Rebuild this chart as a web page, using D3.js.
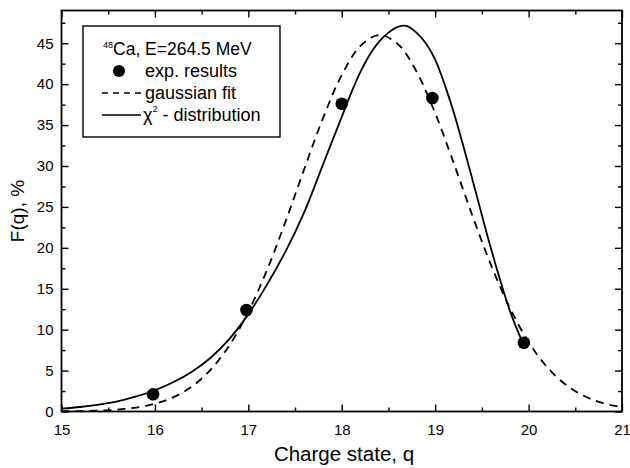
<!DOCTYPE html>
<html>
<head>
<meta charset="utf-8">
<script src="https://cdn.jsdelivr.net/npm/d3@7"></script>
<style>
  html, body { margin: 0; padding: 0; background: #fff; }
  svg { display: block; font-family: "Liberation Sans", Arial, sans-serif; }
</style>
</head>
<body>
<svg id="chart" width="630" height="468"></svg>
<script>
// ---- data ----
const expQ = [15.98, 16.98, 18.0, 18.97, 19.95];
const expF = [2.1, 12.4, 37.6, 38.3, 8.4];

const gaussQ = [15.0, 15.2, 15.4, 15.6, 15.8, 16.0, 16.2, 16.4, 16.6, 16.8, 17.0, 17.2, 17.4, 17.6, 17.8, 18.0, 18.2, 18.4, 18.6, 18.8, 19.0, 19.2, 19.4, 19.6, 19.8, 20.0, 20.2, 20.4, 20.6, 20.8, 21.0];
const gaussF = [0.02, 0.05, 0.11, 0.23, 0.48, 0.95, 1.76, 3.09, 5.15, 8.13, 12.18, 17.29, 23.26, 29.67, 35.87, 41.11, 44.67, 46.0, 44.91, 41.55, 36.45, 30.31, 23.89, 17.85, 12.65, 8.49, 5.40, 3.26, 1.86, 1.01, 0.52];

const chiQ = [15.0, 15.2, 15.4, 15.6, 15.8, 16.0, 16.2, 16.4, 16.6, 16.8, 17.0, 17.2, 17.4, 17.6, 17.8, 18.0, 18.1, 18.2, 18.3, 18.4, 18.5, 18.6, 18.7, 18.8, 18.9, 19.0, 19.1, 19.2, 19.3, 19.4, 19.5, 19.6, 19.7, 19.8, 19.9, 19.95];
const chiF = [0.35, 0.55, 0.85, 1.25, 1.85, 2.6, 3.6, 4.9, 6.6, 8.9, 11.9, 15.5, 19.6, 24.4, 30.2, 36.0, 38.9, 41.5, 43.6, 45.2, 46.3, 47.0, 47.1, 46.3, 45.0, 43.0, 40.0, 36.5, 32.5, 28.3, 24.0, 19.8, 15.9, 12.3, 9.4, 8.2];

const xTicks = [15, 16, 17, 18, 19, 20, 21];
const yTicks = [0, 5, 10, 15, 20, 25, 30, 35, 40, 45];
const xMinor = [15.5, 16.5, 17.5, 18.5, 19.5, 20.5];
const yMinor = [2.5, 7.5, 12.5, 17.5, 22.5, 27.5, 32.5, 37.5, 42.5, 47.5];

const legendLabels = ["exp. results", "gaussian fit", " - distribution"];

// ---- layout ----
const L = 61.5, R = 622, T = 10.5, B = 411.5;
const svg = d3.select("#chart");
const x = d3.scaleLinear().domain([15, 21]).range([L, R]);
const y = d3.scaleLinear().domain([0, 49]).range([B, T]);

const lineGen = d3.line().x(d => x(d[0])).y(d => y(d[1])).curve(d3.curveCatmullRom);

// curves
svg.append("path")
  .datum(d3.zip(gaussQ, gaussF))
  .attr("d", lineGen)
  .attr("fill", "none").attr("stroke", "#000").attr("stroke-width", 1.8)
  .attr("stroke-dasharray", "8,6");

svg.append("path")
  .datum(d3.zip(chiQ, chiF))
  .attr("d", lineGen)
  .attr("fill", "none").attr("stroke", "#000").attr("stroke-width", 1.8);

// points
svg.append("g").selectAll("circle")
  .data(d3.zip(expQ, expF))
  .join("circle")
  .attr("cx", d => x(d[0])).attr("cy", d => y(d[1])).attr("r", 6.3)
  .attr("fill", "#000");

// axes with inward ticks on all four sides
function axisG(axis, tx, ty) {
  const g = svg.append("g").attr("transform", `translate(${tx},${ty})`).call(axis);
  g.select(".domain").remove();
  g.selectAll("line").attr("stroke", "#000").attr("stroke-width", 1.4);
  return g;
}
const fmt = d3.format("d");
const xb = axisG(d3.axisBottom(x).tickValues(xTicks).tickFormat(fmt).tickSizeInner(-7).tickSizeOuter(0).tickPadding(13), 0, B);
xb.selectAll("text").attr("font-size", 15).attr("fill", "#000");
axisG(d3.axisBottom(x).tickValues(xMinor).tickFormat("").tickSizeInner(-4).tickSizeOuter(0), 0, B);
axisG(d3.axisTop(x).tickValues(xTicks).tickFormat("").tickSizeInner(-7).tickSizeOuter(0), 0, T);
axisG(d3.axisTop(x).tickValues(xMinor).tickFormat("").tickSizeInner(-4).tickSizeOuter(0), 0, T);

const yl = axisG(d3.axisLeft(y).tickValues(yTicks).tickFormat(fmt).tickSizeInner(-7).tickSizeOuter(0).tickPadding(8), L, 0);
yl.selectAll("text").attr("font-size", 15).attr("fill", "#000");
axisG(d3.axisLeft(y).tickValues(yMinor).tickFormat("").tickSizeInner(-4).tickSizeOuter(0), L, 0);
axisG(d3.axisRight(y).tickValues(yTicks).tickFormat("").tickSizeInner(-7).tickSizeOuter(0), R, 0);
axisG(d3.axisRight(y).tickValues(yMinor).tickFormat("").tickSizeInner(-4).tickSizeOuter(0), R, 0);

// frame
svg.append("rect").attr("x", L).attr("y", T).attr("width", R - L).attr("height", B - T)
  .attr("fill", "none").attr("stroke", "#000").attr("stroke-width", 1.8);

// axis titles
svg.append("text").attr("x", 344).attr("y", 461).attr("text-anchor", "middle")
  .attr("font-size", 20.5).text("Charge state, q");
svg.append("text").attr("transform", `translate(24,${(T + B) / 2}) rotate(-90)`)
  .attr("text-anchor", "middle").attr("font-size", 19).text("F(q), %");

// legend
const lg = svg.append("g");
lg.append("rect").attr("x", 83).attr("y", 26).attr("width", 197).attr("height", 111)
  .attr("fill", "#fff").attr("stroke", "#000").attr("stroke-width", 1.4);
const t1 = lg.append("text").attr("x", 103).attr("y", 55).attr("font-size", 17.5);
t1.append("tspan").attr("font-size", 9).attr("dy", -7).text("48");
t1.append("tspan").attr("dy", 7).text("Ca, E=264.5 MeV");
lg.append("circle").attr("cx", 119).attr("cy", 71).attr("r", 6).attr("fill", "#000");
lg.append("text").attr("x", 145).attr("y", 77).attr("font-size", 18).text(legendLabels[0]);
lg.append("line").attr("x1", 102).attr("x2", 143).attr("y1", 93).attr("y2", 93)
  .attr("stroke", "#000").attr("stroke-width", 1.6).attr("stroke-dasharray", "6,5");
lg.append("text").attr("x", 145).attr("y", 99).attr("font-size", 18).text(legendLabels[1]);
lg.append("line").attr("x1", 102).attr("x2", 141).attr("y1", 115).attr("y2", 115)
  .attr("stroke", "#000").attr("stroke-width", 1.6);
const t4 = lg.append("text").attr("x", 143).attr("y", 121).attr("font-size", 18);
t4.append("tspan").text("χ");
t4.append("tspan").attr("font-size", 9).attr("dy", -9).text("2");
t4.append("tspan").attr("dy", 9).text(legendLabels[2]);
</script>
</body>
</html>
